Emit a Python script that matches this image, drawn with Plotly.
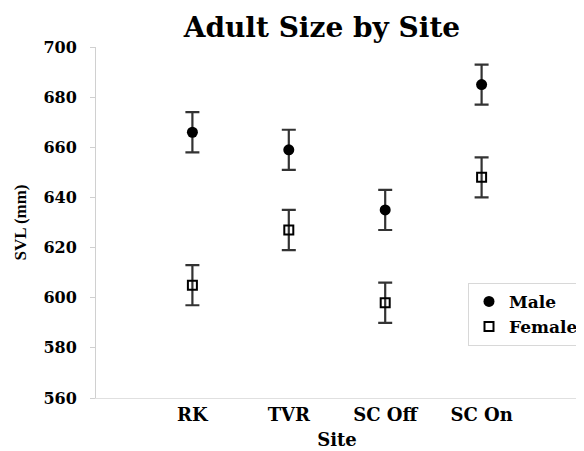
import plotly.graph_objects as go

sites = ["RK", "TVR", "SC Off", "SC On"]
male = [666, 659, 635, 685]
male_err = [8, 8, 8, 8]
female = [605, 627, 598, 648]
female_err = [8, 8, 8, 8]
y_ticks = [560, 580, 600, 620, 640, 660, 680, 700]

FONT = "DejaVu Serif"
FONT_V = "Liberation Serif"
xpos = list(range(len(sites)))

fig = go.Figure()
fig.add_trace(go.Scatter(
    x=xpos, y=male, mode="markers", name="<b>Male</b>",
    marker=dict(symbol="circle", size=11, color="black"),
    error_y=dict(type="data", array=male_err, color="#333", thickness=2.2, width=7),
))
fig.add_trace(go.Scatter(
    x=xpos, y=female, mode="markers", name="<b>Female</b>",
    marker=dict(symbol="square-open", size=9, color="black", line=dict(width=2)),
    error_y=dict(type="data", array=female_err, color="#333", thickness=2.2, width=7),
))

fig.update_layout(
    width=576, height=443,
    margin=dict(l=88, r=0, t=39, b=53),
    paper_bgcolor="white", plot_bgcolor="white",
    font=dict(family=FONT, color="black"),
    title=dict(text="<b>Adult Size by Site</b>", x=0.545, xanchor="center",
               y=0.957, yanchor="middle", font=dict(size=28, family=FONT)),
    showlegend=True,
    legend=dict(x=0.772, y=0.328, xanchor="left", yanchor="top",
                bordercolor="#d8d8d8", borderwidth=1, bgcolor="white",
                font=dict(size=17, family=FONT), tracegroupgap=0,
                itemwidth=30),
    xaxis=dict(range=[-1, 4], tickvals=xpos, ticktext=["<b>%s</b>" % s for s in sites],
               showgrid=False, zeroline=False, showline=True, linecolor="#e0e0e0",
               linewidth=1, ticks="", tickfont=dict(size=18, family=FONT),
               title=dict(text="<b>Site</b>", font=dict(size=18, family=FONT), standoff=9)),
    yaxis=dict(range=[560, 700], tickvals=y_ticks, ticktext=["<b>%d</b>" % v for v in y_ticks],
               showgrid=False, zeroline=False, showline=True, linecolor="#d0d0d0",
               linewidth=1, ticks="outside", ticklen=5, tickcolor="#d0d0d0",
               tickfont=dict(size=16, family=FONT), ticklabelstandoff=10,
               title=dict(text="<b>SVL (mm)</b>", font=dict(size=17, family=FONT_V), standoff=12)),
)

fig.write_html("out.html")
